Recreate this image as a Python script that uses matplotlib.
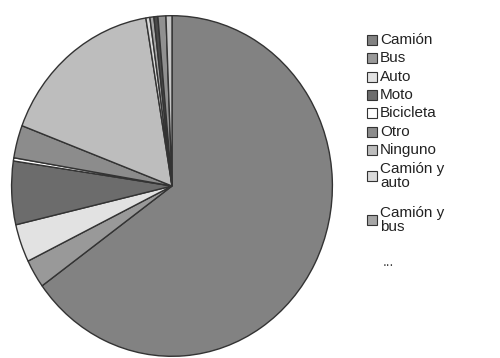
import matplotlib
matplotlib.use("Agg")
import matplotlib.pyplot as plt
from matplotlib.patches import Rectangle

plt.rcParams['font.family'] = ['Liberation Sans', 'DejaVu Sans']

# Shares (%) of each category, in drawing order (clockwise from 12 o'clock)
categories = ["Camión", "Bus", "Auto", "Moto", "Bicicleta", "Otro", "Ninguno",
              "Camión y auto", "Camión y bus", "Bus y auto", "Moto y auto",
              "Otras combinaciones"]
shares = [64.9, 2.7, 3.6, 6.0, 0.3, 3.1, 16.6, 0.4, 0.4, 0.4, 0.8, 0.6]
legend_labels = ["Camión", "Bus", "Auto", "Moto", "Bicicleta", "Otro",
                 "Ninguno", "Camión y\nauto", "Camión y\nbus"]
colors = ["#828282", "#999999", "#e2e2e2", "#6c6c6c", "#ffffff", "#8c8c8c",
          "#bdbdbd", "#dadada", "#a6a6a6", "#4a4a4a", "#909090", "#c6c6c6"]

W, H = 500, 358
fig = plt.figure(figsize=(W / 100, H / 100), dpi=100)

# Pie axes (slightly elliptical footprint)
ax = fig.add_axes([10 / W, 0 / H, 324 / W, 344 / H])
wedges, _ = ax.pie(shares, colors=colors, startangle=90, counterclock=False,
                   radius=1.0, center=(0, 0),
                   wedgeprops=dict(edgecolor="#333333", linewidth=1.0))
ax.set_aspect("auto")
ax.set_xlim(-1.01, 1.01)
ax.set_ylim(-1.01, 1.01)
ax.axis("off")

# Title sits mostly above the top edge; only its lowest strokes show
fig.text(245 / W, 1 - 4 / H, "Vehículos afectados", ha="center", va="bottom",
         fontsize=13, fontweight="bold", color="#666666")

# Hand-placed legend (first nine categories)
rows_y = [40, 58, 77, 95, 113, 132, 150, 176, 220]
sq = 10
for lab, col, y in zip(legend_labels, colors, rows_y):
    fig.add_artist(Rectangle((367 / W, 1 - (y + sq / 2) / H), sq / W, sq / H,
                             transform=fig.transFigure, facecolor=col,
                             edgecolor="#333333", linewidth=0.8))
    fig.text(380 / W, 1 - y / H, lab, ha="left", va="center",
             fontsize=11, color="#222222", linespacing=0.95)

fig.text(383 / W, 1 - 262 / H, "...", ha="left", va="center",
         fontsize=10, color="#444444")

fig.savefig("out.png", dpi=100, facecolor="white")
